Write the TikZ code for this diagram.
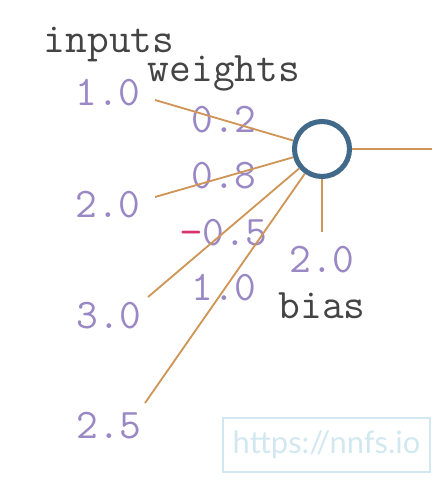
\documentclass[tikz,border=0pt]{standalone}
\usepackage{fontspec}
\newfontfamily\nnmono{Latin Modern Mono}
\newfontfamily\nnsans{Lato}
\usetikzlibrary{positioning}
\definecolor{nnPurple}{HTML}{9A88C5}
\definecolor{nnOrange}{HTML}{CF9557}
\definecolor{nnBlue}{HTML}{40698A}
\definecolor{nnGray}{HTML}{444444}
\definecolor{nnRed}{HTML}{D8336B}
\definecolor{nnWater}{HTML}{D2E8F0}

\begin{document}
\begin{tikzpicture}[x=0.025cm, y=-0.025cm,
      every node/.style={inner sep=0pt, anchor=base},
      val/.style={text=nnPurple, font=\nnmono\fontsize{30}{32}\selectfont},
      title/.style={text=nnGray, font=\nnmono\fontsize{30}{32}\selectfont},
      neuron/.style={circle, draw=nnBlue, line width=3.6pt, fill=white,
                     minimum size=1.375cm, anchor=center},
      conn/.style={draw=nnOrange, line width=1.3pt},
      watermark/.style={draw=nnWater, line width=1.1pt, text=nnWater,
                   font=\nnsans\fontsize{22}{24}\selectfont,
                   minimum width=5.175cm, minimum height=1.35cm, anchor=center}]
    \useasboundingbox (0,0) rectangle (438,484);
    \node[title] (inputs)  at (109,53)  {inputs};
    \node[title] (weights) at (224,82)  {weights};
    \node[val] (x1) at (108,106) {1.0};
    \node[val] (x2) at (108,218) {2.0};
    \node[val] (x3) at (109,328) {3.0};
    \node[val] (x4) at (109,438) {2.5};
    \node[val] (w1) at (224,133) {0.2};
    \node[val] (w2) at (224,189) {0.8};
    \node[val] (w3) at (224,245) {\textcolor{nnRed}{−}0.5};
    \node[val] (w4) at (224,300) {1.0};
    \node[val] (b)  at (322,272) {2.0};
    \node[title] (bias) at (322,318) {bias};
    \node[neuron] (n) at (322,149) {};
    \coordinate (s1) at (155,100);
    \coordinate (s2) at (155,197);
    \coordinate (s3) at (148,297);
    \coordinate (s4) at (145,403);
    \coordinate (bend) at (322,232);
    \coordinate (out) at (432,149);
    \draw[conn] (s1) -- (n);
    \draw[conn] (s2) -- (n);
    \draw[conn] (s3) -- (n);
    \draw[conn] (s4) -- (n);
    \draw[conn] (n) -- (bend);
    \draw[conn] (n) -- (out);
    \node[watermark] (site) at (326.5,445) {https://nnfs.io};
  \end{tikzpicture}
\end{document}
